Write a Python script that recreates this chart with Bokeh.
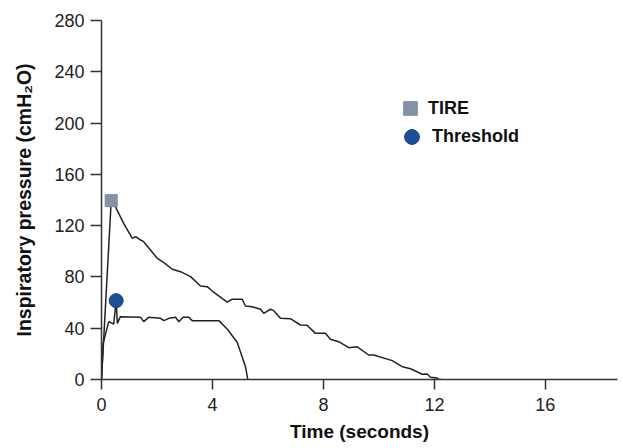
from bokeh.plotting import figure
from bokeh.models import Range1d, FixedTicker, Legend, LegendItem
from bokeh.embed import file_html
from bokeh.resources import INLINE

# TIRE trace (time s, pressure cmH2O)
tire_t = [0, 0.35, 0.50, 0.62, 0.80, 1.11, 1.23, 1.41, 1.52, 2.01, 2.25, 2.55, 2.85, 3.21,
          3.57, 3.81, 3.99, 4.53, 4.71, 5.07, 5.19, 5.43, 5.73, 5.85, 6.09, 6.21, 6.45,
          6.81, 7.17, 7.41, 7.71, 8.07, 8.25, 8.55, 8.91, 9.21, 9.63, 9.81, 10.48, 10.84,
          11.14, 11.56, 11.74, 11.86, 12.10, 12.15, 12.25]
tire_p = [0, 139.5, 134.8, 129.6, 121.8, 110.1, 111.4, 108.8, 107.5, 94.5, 91.1, 86.0, 84.1, 80.2,
          72.9, 72.4, 69.0, 60.3, 62.6, 62.6, 57.3, 56.8, 54.8, 51.6, 54.8, 53.7, 47.7,
          47.4, 42.5, 42.3, 36.0, 36.0, 31.4, 29.5, 24.8, 25.6, 19.1, 19.1, 14.7, 10.0,
          8.4, 4.1, 4.3, 1.7, 1.2, 0.2, 0]

# Threshold trace
thr_t = [0, 0.06, 0.26, 0.44, 0.53, 0.57, 0.68, 1.41, 1.52, 1.70, 2.13, 2.25, 2.43, 2.67,
         2.79, 2.94, 3.15, 3.27, 4.23, 4.53, 4.89, 5.13, 5.19, 5.27]
thr_p = [0, 28.2, 45.1, 43.3, 61.5, 43.8, 49.0, 48.5, 45.1, 48.5, 47.7, 45.9, 47.7, 48.5,
         45.1, 48.5, 48.5, 45.9, 45.9, 39.4, 29.1, 13.9, 10.0, 0.2]

# Peak markers
tire_peak_t = [0.35]
tire_peak_p = [139.5]
thr_peak_t = [0.53]
thr_peak_p = [61.5]

x_ticks = [0, 4, 8, 12, 16]
y_ticks = [0, 40, 80, 120, 160, 200, 240, 280]

FONT = "Liberation Sans"

p = figure(width=620, height=447, output_backend="svg", toolbar_location=None,
           x_range=Range1d(0, 18.6), y_range=Range1d(0, 280),
           min_border_left=101, min_border_right=3, min_border_top=20, min_border_bottom=68)
p.outline_line_color = None
p.xgrid.visible = False
p.ygrid.visible = False

p.line(tire_t, tire_p, line_color="#222222", line_width=1.5)
p.line(thr_t, thr_p, line_color="#222222", line_width=1.5)
sq = p.scatter(tire_peak_t, tire_peak_p, marker="square", size=12,
               fill_color="#8393a7", line_color="#7a8a9e")
ci = p.scatter(thr_peak_t, thr_peak_p, marker="circle", size=14,
               fill_color="#1d4f99", line_color="#163f7e")

for ax in (p.xaxis[0], p.yaxis[0]):
    ax.axis_line_color = "#333333"
    ax.axis_line_width = 1.5
    ax.major_tick_line_color = "#333333"
    ax.major_tick_line_width = 1.5
    ax.minor_tick_line_color = None
    ax.major_tick_in = 0
    ax.major_label_text_font = FONT
    ax.major_label_text_font_size = "18px"
    ax.major_label_text_color = "#222222"
    ax.axis_label_text_font = FONT
    ax.axis_label_text_font_style = "bold"
    ax.axis_label_text_color = "#111111"

p.xaxis[0].ticker = FixedTicker(ticks=x_ticks)
p.yaxis[0].ticker = FixedTicker(ticks=y_ticks)
p.xaxis[0].major_tick_out = 10
p.yaxis[0].major_tick_out = 11
p.xaxis[0].major_label_standoff = 8
p.yaxis[0].major_label_standoff = 6
p.xaxis[0].axis_label = "Time (seconds)"
p.yaxis[0].axis_label = "Inspiratory pressure (cmH\u2082O)"
p.xaxis[0].axis_label_text_font_size = "19px"
p.yaxis[0].axis_label_text_font_size = "19.5px"
p.xaxis[0].axis_label_standoff = 7
p.yaxis[0].axis_label_standoff = 16

common = dict(padding=0, spacing=0, margin=0,
              label_text_font=FONT, label_text_font_size="18px",
              label_text_font_style="bold", label_text_color="#111111",
              border_line_color=None, background_fill_alpha=0)
legend_tire = Legend(items=[LegendItem(label="TIRE", renderers=[sq])],
                     location=(292, 254), glyph_width=34, glyph_height=34,
                     label_standoff=1, **common)
legend_thr = Legend(items=[LegendItem(label="Threshold", renderers=[ci])],
                    location=(292, 224), glyph_width=37, glyph_height=37,
                    label_standoff=2, **common)
p.add_layout(legend_tire, "center")
p.add_layout(legend_thr, "center")

open("out.html", "w").write(file_html(p, INLINE))
